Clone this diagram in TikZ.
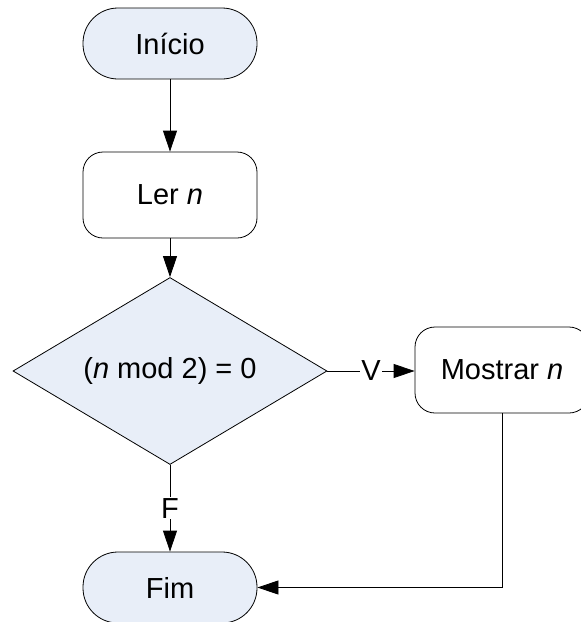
\documentclass[tikz,border=0pt]{standalone}
\usepackage{fontspec}
\setmainfont{Liberation Sans}
\usetikzlibrary{shapes.geometric,arrows.meta}
\definecolor{flowblue}{RGB}{232,238,248}
\begin{document}
\begin{tikzpicture}[x=1pt,y=-1pt,
  every node/.style={font=\fontsize{29}{34}\selectfont},
  terminal/.style={draw, line width=0.8pt, fill=flowblue, rounded corners=35pt,
    minimum width=174pt, minimum height=71pt, inner sep=0pt},
  procbox/.style={draw, line width=0.8pt, fill=white, rounded corners=20pt,
    minimum width=174pt, minimum height=86pt, inner sep=0pt},
  decision/.style={draw, line width=0.8pt, fill=flowblue, diamond, aspect=1.68,
    minimum width=314pt, minimum height=187pt, inner sep=0pt},
  flow/.style={line width=0.8pt, -{Triangle[length=21pt,width=14pt]}},
  lbl/.style={fill=white, inner sep=1pt}
]
\useasboundingbox (0,0) rectangle (581,622);
\node[terminal] (inicio) at (170,43.5) {Início};
\node[procbox] (ler) at (170,195) {Ler \textit{n}};
\node[decision] (dec) at (170,371) {(\textit{n} mod 2) = 0};
\node[procbox] (mostrar) at (502,370) {Mostrar \textit{n}};
\node[terminal] (fim) at (170,587.5) {Fim};
\coordinate (corner) at (mostrar.south |- fim.east);
\draw[flow] (inicio) -- (ler);
\draw[flow] (ler) -- (dec);
\draw[flow] (dec.east) -- node[lbl] {V} (dec.east -| mostrar.west);
\draw[flow] (dec.south) -- node[lbl] {F} (fim.north);
\draw[flow] (mostrar.south) -- (corner) -- (fim.east);
\end{tikzpicture}
\end{document}
